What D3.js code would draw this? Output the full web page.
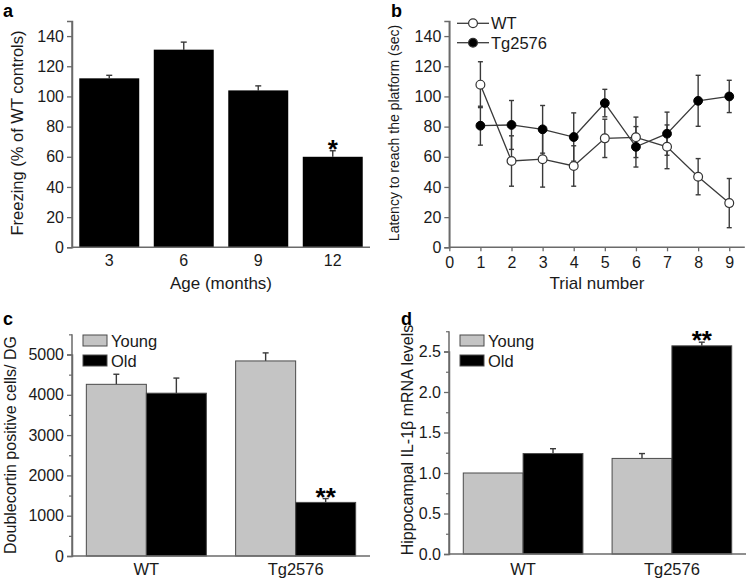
<!DOCTYPE html>
<html><head><meta charset="utf-8">
<script src="https://cdn.jsdelivr.net/npm/d3@7"></script>
<style>
body{margin:0;background:#fff;}
svg{font-family:"Liberation Sans",Arial,Helvetica,sans-serif;}
</style></head>
<body><svg id="c" width="748" height="579"></svg>
<script>
// ---- data ----
const ageMonths = ["3","6","9","12"];
const freezing = [112,131,104,60];
const freezingErr = [2,5,3,4];

const trials = [1,2,3,4,5,6,7,8,9];
const latencyWT = [107.8,57.2,58.4,53.9,72.2,72.9,66.6,46.8,29.3];
const latencyWTErr = [15.2,16.7,18.5,13.4,12.7,13.4,14.5,12,16.3];
const latencyTg = [80.6,81.1,78.2,73.1,95.6,66.6,75.3,97.1,100];
const latencyTgErr = [12.9,16.2,15.8,16,9.1,13.4,14.3,16.9,10.7];

const genotypes = ["WT","Tg2576"];
const ageGroups = ["Young","Old"];
const dcxYoung = [4260,4840];
const dcxYoungErr = [250,200];
const dcxOld = [4040,1330];
const dcxOldErr = [375,95];
const il1bYoung = [1.0,1.18];
const il1bYoungErr = [0,0.06];
const il1bOld = [1.24,2.57];
const il1bOldErr = [0.06,0.045];

// ---- styles ----
const AX = "#6a6a6a", TXT = "#1a1a1a", ERR = "#3a3a3a", GRAY = "#c4c4c4";
const TICKFS = "16px";
const svg = d3.select("#c");

function styleAxis(g){
  g.selectAll(".domain").attr("stroke",AX).attr("stroke-width",1.5);
  g.selectAll(".tick line").attr("stroke",AX).attr("stroke-width",1.3);
  g.selectAll(".tick text").attr("fill",TXT).style("font-size",TICKFS).style("font-family","Liberation Sans, Arial, sans-serif");
}
function yAxis(x0, y, ticks, fmt, minor){
  const g = svg.append("g").attr("transform",`translate(${x0},0)`)
    .call(d3.axisLeft(y).tickValues(ticks).tickFormat(fmt).tickSize(5).tickPadding(3));
  styleAxis(g);
  if(minor){
    svg.append("g").attr("transform",`translate(${x0},0)`)
      .call(d3.axisLeft(y).tickValues(minor).tickFormat("").tickSize(3))
      .call(g2=>{g2.select(".domain").remove(); g2.selectAll("line").attr("stroke",AX).attr("stroke-width",1.2);});
  }
  return g;
}
function xBaseline(y0, x0, x1){
  svg.append("line").attr("x1",x0).attr("x2",x1).attr("y1",y0).attr("y2",y0)
    .attr("stroke",AX).attr("stroke-width",1.5);
}
function errBar(g, x, yTop, yVal, cap){
  g.append("line").attr("x1",x).attr("x2",x).attr("y1",yVal).attr("y2",yTop).attr("stroke",ERR).attr("stroke-width",1.4);
  g.append("line").attr("x1",x-cap).attr("x2",x+cap).attr("y1",yTop).attr("y2",yTop).attr("stroke",ERR).attr("stroke-width",1.4);
}
function panelLetter(t,x,y){
  svg.append("text").attr("x",x).attr("y",y).text(t).attr("font-weight","bold").style("font-size","18px").attr("fill","#000");
}
function yLabel(t,x,yc,fs){
  svg.append("text").attr("transform",`translate(${x},${yc}) rotate(-90)`).attr("text-anchor","middle")
    .attr("dominant-baseline","central").style("font-size",fs).attr("fill",TXT).text(t);
}
function stars(t,x,yErrTop){
  svg.append("text").attr("x",x).attr("y",yErrTop+7).attr("text-anchor","middle")
    .style("font-size","26px").attr("font-weight","bold").attr("fill","#000").text(t);
}

// ---- panel a ----
{
  const x = d3.scaleBand().domain(ageMonths).range([72,370]).paddingInner(0.195).paddingOuter(0.0975);
  const y = d3.scaleLinear().domain([0,150]).range([247.3,21]);
  const g = svg.append("g");
  ageMonths.forEach((a,i)=>{
    const cx = x(a)+x.bandwidth()/2;
    errBar(g, cx, y(freezing[i]+freezingErr[i]), y(freezing[i]), 3);
  });
  g.selectAll("rect").data(ageMonths).join("rect")
    .attr("x",d=>x(d)).attr("width",x.bandwidth())
    .attr("y",(d,i)=>y(freezing[i])).attr("height",(d,i)=>y(0)-y(freezing[i]))
    .attr("fill","#000");
  yAxis(72, y, d3.range(0,141,20), d3.format("d"));
  svg.append("line").attr("x1",72).attr("x2",72).attr("y1",y(0)).attr("y2",y(150)).attr("stroke",AX).attr("stroke-width",1.5);
  xBaseline(y(0),72,370);
  svg.append("g").selectAll("text").data(ageMonths).join("text")
    .attr("x",d=>x(d)+x.bandwidth()/2).attr("y",266).attr("text-anchor","middle")
    .style("font-size",TICKFS).attr("fill",TXT).text(d=>d);
  svg.append("text").attr("x",221).attr("y",289).attr("text-anchor","middle").style("font-size","17px").attr("fill",TXT).text("Age (months)");
  yLabel("Freezing (% of WT controls)",17,133,"16.5px");
  const i3 = 3;
  stars("*", x(ageMonths[i3])+x.bandwidth()/2, y(freezing[i3]+freezingErr[i3]));
  panelLetter("a",3,17);
}

// ---- panel b ----
{
  const x = d3.scaleLinear().domain([0,9.5]).range([449.3,744.8]);
  const y = d3.scaleLinear().domain([0,150]).range([247.3,21]);
  const gx = svg.append("g").attr("transform",`translate(0,${y(0)})`)
    .call(d3.axisBottom(x).tickValues(d3.range(0,10)).tickSize(4).tickPadding(5).tickFormat(d3.format("d")));
  styleAxis(gx);
  gx.select(".domain").attr("d",`M${x(0)},0H${x(9.5)}`);
  yAxis(449.3, y, d3.range(0,141,20), d3.format("d"));
  svg.append("line").attr("x1",449.3).attr("x2",449.3).attr("y1",y(0)).attr("y2",y(150)).attr("stroke",AX).attr("stroke-width",1.5);
  const line = d3.line().x((d,i)=>x(trials[i])).y(d=>y(d));
  svg.append("path").attr("d",line(latencyTg)).attr("fill","none").attr("stroke","#3a3a3a").attr("stroke-width",1.3);
  svg.append("path").attr("d",line(latencyWT)).attr("fill","none").attr("stroke","#3a3a3a").attr("stroke-width",1.3);
  const ge = svg.append("g");
  trials.forEach((t,i)=>{
    const cx = x(t);
    [[latencyWT,latencyWTErr],[latencyTg,latencyTgErr]].forEach(([v,e])=>{
      errBar(ge,cx,y(v[i]+e[i]),y(v[i]-e[i]),2.5);
      ge.append("line").attr("x1",cx-2.5).attr("x2",cx+2.5).attr("y1",y(v[i]-e[i])).attr("y2",y(v[i]-e[i])).attr("stroke",ERR).attr("stroke-width",1.4);
    });
  });
  svg.append("g").selectAll("circle").data(latencyTg).join("circle")
    .attr("cx",(d,i)=>x(trials[i])).attr("cy",d=>y(d)).attr("r",4.4).attr("fill","#000").attr("stroke","#000");
  svg.append("g").selectAll("circle").data(latencyWT).join("circle")
    .attr("cx",(d,i)=>x(trials[i])).attr("cy",d=>y(d)).attr("r",4.4).attr("fill","#fff").attr("stroke","#333").attr("stroke-width",1.2);
  const leg = [["WT","#fff",23.3],["Tg2576","#000",42.7]];
  leg.forEach(([t,f,ly])=>{
    svg.append("line").attr("x1",457).attr("x2",489).attr("y1",ly).attr("y2",ly).attr("stroke","#3a3a3a").attr("stroke-width",1.3);
    svg.append("circle").attr("cx",473).attr("cy",ly).attr("r",4.4).attr("fill",f).attr("stroke","#333").attr("stroke-width",1.2);
    svg.append("text").attr("x",491).attr("y",ly).attr("dominant-baseline","central").style("font-size","16.5px").attr("fill",TXT).text(t);
  });
  svg.append("text").attr("x",597).attr("y",289).attr("text-anchor","middle").style("font-size","17px").attr("fill",TXT).text("Trial number");
  yLabel("Latency to reach the platform (sec)",394,133,"14px");
  panelLetter("b",391,17);
}

// ---- grouped bar panels ----
function grouped(opts){
  const {x0r, yr, ydom, ticks, fmt, minor, young, youngErr, old, oldErr, label, labelX, labelY, legX, letter, letterX, axisTop} = opts;
  const x0 = d3.scaleBand().domain(genotypes).range(x0r).paddingInner(0.196).paddingOuter(0.096);
  const x1 = d3.scaleBand().domain(ageGroups).range([0,x0.bandwidth()]);
  const y = d3.scaleLinear().domain(ydom).range(yr);
  const g = svg.append("g");
  const series = {Young:[young,youngErr,GRAY], Old:[old,oldErr,"#000"]};
  genotypes.forEach((gt,i)=>{
    ageGroups.forEach(ag=>{
      const [v,e] = series[ag];
      const cx = x0(gt)+x1(ag)+x1.bandwidth()/2;
      if(e[i]>0) errBar(g,cx,y(v[i]+e[i]),y(v[i]),3);
    });
  });
  genotypes.forEach((gt,i)=>{
    ageGroups.forEach(ag=>{
      const [v,e,c] = series[ag];
      g.append("rect").attr("x",x0(gt)+x1(ag)).attr("width",x1.bandwidth())
        .attr("y",y(v[i])).attr("height",y(0)-y(v[i]))
        .attr("fill",c).attr("stroke","#4a4a4a").attr("stroke-width",1);
    });
  });
  yAxis(x0r[0], y, ticks, fmt, minor);
  svg.append("line").attr("x1",x0r[0]).attr("x2",x0r[0]).attr("y1",y(0)).attr("y2",y(axisTop)).attr("stroke",AX).attr("stroke-width",1.5);
  xBaseline(y(0),x0r[0],x0r[1]);
  svg.append("g").selectAll("text").data(genotypes).join("text")
    .attr("x",d=>x0(d)+x0.bandwidth()/2).attr("y",575).attr("text-anchor","middle")
    .style("font-size","16.5px").attr("fill",TXT).text(d=>d);
  const si = 1;
  stars("**", x0(genotypes[si])+x1("Old")+x1.bandwidth()/2, y(old[si]+oldErr[si]));
  [["Young",GRAY,340.5],["Old","#000",360.5]].forEach(([t,c,ly])=>{
    svg.append("rect").attr("x",legX).attr("y",ly-5.5).attr("width",24).attr("height",11).attr("fill",c).attr("stroke","#4a4a4a").attr("stroke-width",1);
    svg.append("text").attr("x",legX+28).attr("y",ly).attr("dominant-baseline","central").style("font-size","16.5px").attr("fill",TXT).text(t);
  });
  yLabel(label,labelX,labelY,"16px");
  panelLetter(letter,letterX,325);
}
grouped({x0r:[72,370], yr:[556,354.5], ydom:[0,5000], ticks:d3.range(0,5001,1000), fmt:d3.format("d"),
  minor:d3.range(500,5501,1000), young:dcxYoung, youngErr:dcxYoungErr, old:dcxOld, oldErr:dcxOldErr,
  label:"Doublecortin positive cells/ DG", labelX:10, labelY:445, legX:83, letter:"c", letterX:3, axisTop:5500});
grouped({x0r:[449,746], yr:[554,351.5], ydom:[0,2.5], ticks:d3.range(0,2.51,0.5), fmt:d3.format(".1f"),
  minor:d3.range(0.25,2.76,0.5), young:il1bYoung, youngErr:il1bYoungErr, old:il1bOld, oldErr:il1bOldErr,
  label:"Hippocampal IL-1β mRNA levels", labelX:407, labelY:440, legX:460, letter:"d", letterX:401, axisTop:2.75});
</script></body></html>
